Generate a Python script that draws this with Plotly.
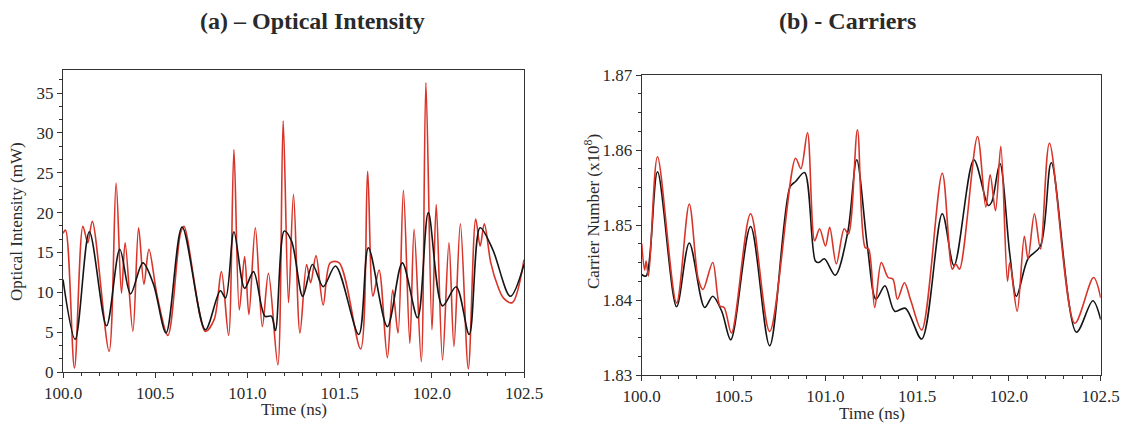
import plotly.graph_objects as go

# ---------------- Panel (a): Optical intensity (mW) ----------------
t_black_a = [100.000, 100.066, 100.143, 100.236, 100.308, 100.366, 100.433, 100.491,
             100.559, 100.646, 100.772, 100.853, 100.882, 100.927, 100.985, 101.033,
             101.095, 101.130, 101.152, 101.200, 101.240, 101.300, 101.353, 101.411,
             101.478, 101.604, 101.656, 101.759, 101.840, 101.923, 101.981, 102.058,
             102.132, 102.203, 102.262, 102.330, 102.426, 102.500]
black_a = [11.6, 4.1, 17.6, 5.8, 15.4, 9.8, 13.7, 11.0,
           4.9, 18.2, 5.3, 10.2, 9.3, 17.6, 10.5, 12.6,
           7.0, 7.0, 5.2, 17.7, 16.4, 9.5, 13.5, 10.7,
           13.3, 4.7, 15.6, 5.7, 13.7, 6.8, 20.0, 8.3,
           10.7, 4.7, 18.1, 15.4, 9.5, 13.5]

t_red_a = [100.000, 100.014, 100.062, 100.108, 100.134, 100.159, 100.250, 100.288,
           100.317, 100.337, 100.379, 100.410, 100.439, 100.466, 100.511, 100.569,
           100.637, 100.656, 100.772, 100.820, 100.859, 100.898, 100.927, 100.956,
           100.985, 101.008, 101.043, 101.081, 101.114, 101.165, 101.194, 101.223,
           101.250, 101.285, 101.321, 101.343, 101.372, 101.411, 101.449, 101.498,
           101.614, 101.652, 101.681, 101.714, 101.759, 101.788, 101.817, 101.846,
           101.881, 101.904, 101.943, 101.968, 102.001, 102.024, 102.058, 102.093,
           102.120, 102.155, 102.198, 102.238, 102.262, 102.285, 102.320, 102.359,
           102.388, 102.436, 102.500]
red_a = [17.4, 17.8, 0.5, 18.3, 16.2, 18.9, 2.6, 23.7,
         9.9, 16.2, 5.1, 18.1, 11.0, 15.4, 9.5, 4.6,
         17.4, 18.3, 5.1, 6.6, 12.6, 4.6, 27.9, 7.8,
         14.5, 7.2, 18.1, 5.7, 12.4, 0.9, 31.5, 8.7,
         22.3, 4.9, 13.5, 11.2, 14.6, 8.4, 13.7, 13.7,
         2.9, 25.2, 9.5, 12.8, 1.8, 10.3, 4.9, 22.8,
         3.6, 17.9, 1.3, 36.3, 5.3, 21.0, 1.5, 16.2,
         3.2, 18.6, 0.4, 19.2, 15.8, 18.6, 13.7, 10.7,
         9.3, 8.7, 14.1]

# ---------------- Panel (b): Carrier number (x10^8) ----------------
t_black_b = [100.000, 100.024, 100.086, 100.190, 100.259, 100.343, 100.387, 100.436,
             100.485, 100.593, 100.697, 100.808, 100.838, 100.887, 100.946, 100.965,
             100.995, 101.054, 101.122, 101.171, 101.230, 101.276, 101.325, 101.378,
             101.436, 101.525, 101.637, 101.701, 101.809, 101.888, 101.907, 101.951,
             102.005, 102.041, 102.104, 102.172, 102.231, 102.368, 102.457, 102.500]
black_b = [1.8434, 1.8432, 1.8571, 1.8391, 1.8476, 1.8390, 1.8405, 1.8385,
           1.8347, 1.8498, 1.8339, 1.8551, 1.8558, 1.8570, 1.8452, 1.8450,
           1.8455, 1.8433, 1.8490, 1.8587, 1.8470, 1.8401, 1.8419, 1.8385,
           1.8389, 1.8348, 1.8515, 1.8446, 1.8587, 1.8526, 1.8531, 1.8582,
           1.8461, 1.8405, 1.8455, 1.8472, 1.8583, 1.8357, 1.8399, 1.8374]

t_red_b = [100.000, 100.016, 100.024, 100.037, 100.086, 100.190, 100.259, 100.308,
           100.334, 100.387, 100.426, 100.449, 100.489, 100.593, 100.697, 100.838,
           100.867, 100.903, 100.942, 100.969, 101.001, 101.024, 101.060, 101.103,
           101.126, 101.175, 101.217, 101.236, 101.269, 101.305, 101.342, 101.368,
           101.393, 101.431, 101.466, 101.525, 101.637, 101.692, 101.711, 101.731,
           101.829, 101.874, 101.898, 101.927, 101.956, 101.992, 102.005, 102.045,
           102.084, 102.104, 102.139, 102.172, 102.221, 102.359, 102.461, 102.500]
red_b = [1.8475, 1.8440, 1.8452, 1.8432, 1.8591, 1.8396, 1.8528, 1.8428,
         1.8414, 1.8450, 1.8392, 1.8390, 1.8356, 1.8515, 1.8358, 1.8589,
         1.8575, 1.8623, 1.8479, 1.8495, 1.8472, 1.8497, 1.8448, 1.8495,
         1.8488, 1.8627, 1.8470, 1.8468, 1.8390, 1.8450, 1.8430, 1.8428,
         1.8401, 1.8423, 1.8399, 1.8360, 1.8569, 1.8441, 1.8448, 1.8441,
         1.8618, 1.8524, 1.8567, 1.8519, 1.8605, 1.8425, 1.8450, 1.8385,
         1.8485, 1.8455, 1.8515, 1.8468, 1.8609, 1.8369, 1.8430, 1.8403]

x_ticks = [100.0, 100.5, 101.0, 101.5, 102.0, 102.5]
y_ticks_a = [0, 5, 10, 15, 20, 25, 30, 35]
y_ticks_b = [1.83, 1.84, 1.85, 1.86, 1.87]

W, H = 1125, 423
RED = "#d8352a"
BLACK = "#151515"
FONT = "Liberation Serif"
TXT = "#2a2a2a"

fig = go.Figure()
fig.add_trace(go.Scatter(x=t_red_a, y=red_a, mode="lines", xaxis="x", yaxis="y",
                         line=dict(color=RED, width=1.6, shape="spline", smoothing=0.9)))
fig.add_trace(go.Scatter(x=t_black_a, y=black_a, mode="lines", xaxis="x", yaxis="y",
                         line=dict(color=BLACK, width=1.6, shape="spline", smoothing=0.9)))
fig.add_trace(go.Scatter(x=t_black_b, y=black_b, mode="lines", xaxis="x2", yaxis="y2",
                         line=dict(color=BLACK, width=1.6, shape="spline", smoothing=0.9)))
fig.add_trace(go.Scatter(x=t_red_b, y=red_b, mode="lines", xaxis="x2", yaxis="y2",
                         line=dict(color=RED, width=1.6, shape="spline", smoothing=0.9)))


def px_x(p):
    return p / W


def px_y(p):
    return 1 - p / H


axis_common = dict(showgrid=False, zeroline=False, showline=True, linecolor="#333",
                   linewidth=1.2, mirror=True, ticks="outside", ticklen=5, tickwidth=1,
                   tickcolor="#333", automargin=False, ticklabelstandoff=0,
                   tickfont=dict(family=FONT, size=17, color=TXT))

fig.update_layout(
    width=W, height=H, margin=dict(l=0, r=0, t=0, b=0, autoexpand=False), showlegend=False,
    paper_bgcolor="white", plot_bgcolor="white",
    xaxis=dict(domain=[px_x(63), px_x(524)], range=[100, 102.5], anchor="y",
               tickvals=x_ticks, tickformat=".1f",
               minor=dict(dtick=0.1, ticks="outside", ticklen=3, tickcolor="#333"),
               **axis_common),
    yaxis=dict(domain=[px_y(372), px_y(70)], range=[0, 37.9], anchor="x",
               tickvals=y_ticks_a,
               minor=dict(dtick=5 / 3, tick0=0, ticks="outside", ticklen=3, tickcolor="#333"),
               **axis_common),
    xaxis2=dict(domain=[px_x(641.7), px_x(1100.7)], range=[100, 102.5], anchor="y2",
                tickvals=x_ticks, tickformat=".1f",
                minor=dict(dtick=0.1, ticks="outside", ticklen=3, tickcolor="#333"),
                **axis_common),
    yaxis2=dict(domain=[px_y(375), px_y(75)], range=[1.83, 1.87], anchor="x2",
                tickvals=y_ticks_b, tickformat=".2f",
                minor=dict(dtick=0.0025, tick0=1.83, ticks="outside", ticklen=3, tickcolor="#333"),
                **axis_common),
)

annotations = [
    dict(text="<b>(a) – Optical Intensity</b>", x=px_x(312), y=px_y(21), font=dict(size=24)),
    dict(text="<b>(b) - Carriers</b>", x=px_x(847), y=px_y(21), font=dict(size=24)),
    dict(text="Time (ns)", x=px_x(294), y=px_y(409), font=dict(size=17)),
    dict(text="Time (ns)", x=px_x(872), y=px_y(413), font=dict(size=17)),
    dict(text="Optical Intensity (mW)", x=px_x(16), y=px_y(222), font=dict(size=17), textangle=-90),
    dict(text="Carrier Number (x10<sup>8</sup>)", x=px_x(592), y=px_y(212), font=dict(size=17),
         textangle=-90),
]
for a in annotations:
    a["font"].update(family=FONT, color=TXT)
    fig.add_annotation(xref="paper", yref="paper", showarrow=False,
                       xanchor="center", yanchor="middle", **a)

fig.write_html("out.html")
